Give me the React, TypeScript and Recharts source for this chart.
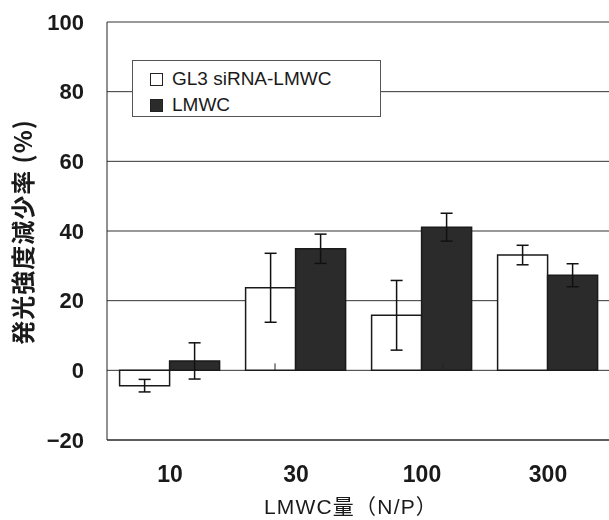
import React from 'react';
import {
  BarChart,
  Bar,
  XAxis,
  YAxis,
  CartesianGrid,
  ErrorBar,
  Legend,
  ReferenceLine
} from 'recharts';

const categories = ['10', '30', '100', '300'];
const gl3Values = [-4.4, 23.7, 15.8, 33.1];
const gl3Errors = [1.8, 9.9, 10, 2.8];
const lmwcValues = [2.7, 34.9, 41.1, 27.3];
const lmwcErrors = [5.2, 4.2, 4, 3.3];
const yTicks = [-20, 0, 20, 40, 60, 80, 100];
// category boundaries where the small ticks sit on the zero line
const zeroTicks = [1, 2, 3];

const chartData = categories.map((cat, i) => ({
  cat,
  gl3: gl3Values[i],
  gl3Err: gl3Errors[i],
  lmwc: lmwcValues[i],
  lmwcErr: lmwcErrors[i]
}));

const latin = '"Liberation Sans", Arial, sans-serif';
const cjk = '"Noto Sans CJK JP", sans-serif';

const YLabel = (props: any) => {
  const { viewBox } = props;
  const x = viewBox.x + 21;
  const y = viewBox.y + viewBox.height / 2 + 1;
  return (
    <text
      x={x}
      y={y}
      transform={`rotate(-90, ${x}, ${y})`}
      textAnchor="middle"
      dominantBaseline="central"
      fontFamily={cjk}
      fontWeight="bold"
      fontSize={24}
      letterSpacing={1}
      fill="#1a1a1a"
    >
      発光強度減少率 (%)
    </text>
  );
};

const XLabel = (props: any) => {
  const { viewBox } = props;
  const x = viewBox.x + viewBox.width / 2 - 8;
  const y = viewBox.y + viewBox.height - 6;
  return (
    <text
      x={x}
      y={y}
      textAnchor="middle"
      fontFamily={latin + ', ' + cjk}
      fontSize={21}
      letterSpacing={1.2}
      fill="#1a1a1a"
    >
      LMWC量（N/P）
    </text>
  );
};

const LegendBox = (props: any) => {
  const { payload } = props;
  return (
    <div
      style={{
        width: 249,
        height: 57,
        boxSizing: 'border-box',
        border: '1px solid #555',
        background: '#fff',
        padding: '5px 0 0 17px',
        fontFamily: latin,
        fontSize: 19,
        color: '#1a1a1a'
      }}
    >
      {(payload || []).map((entry: any, i: number) => (
        <div key={i} style={{ display: 'flex', alignItems: 'center', height: 26 }}>
          <span
            style={{
              width: 11,
              height: 11,
              border: '1.5px solid #222',
              background: entry.color,
              marginRight: 9,
              display: 'inline-block'
            }}
          />
          <span>{entry.value}</span>
        </div>
      ))}
    </div>
  );
};

export default function App() {
  return (
    <div style={{ position: 'fixed', left: 0, top: 0, width: 609, height: 520, background: '#fff' }}>
      <BarChart
        width={611}
        height={520}
        data={chartData}
        margin={{ top: 22, right: 0, bottom: 0, left: 0 }}
        barCategoryGap="10%"
        barGap={0}
      >
        <CartesianGrid vertical={false} stroke="#333" strokeWidth={1} />
        <XAxis
          dataKey="cat"
          height={80}
          tickLine={false}
          axisLine={{ stroke: '#222' }}
          tickMargin={20}
          tick={{ fill: '#1a1a1a', fontFamily: latin, fontWeight: 'bold', fontSize: 23 }}
          label={<XLabel />}
        />
        <XAxis xAxisId="num" type="number" domain={[0, 4]} hide />
        <YAxis
          width={107}
          domain={[-20, 100]}
          ticks={yTicks}
          interval={0}
          tickLine={false}
          axisLine={{ stroke: '#222' }}
          tickMargin={17}
          tickFormatter={(v: number) => (v < 0 ? '\u2212' + Math.abs(v) : String(v))}
          tick={{ fill: '#1a1a1a', fontFamily: latin, fontWeight: 'bold', fontSize: 22 }}
          label={<YLabel />}
        />
        <Legend
          layout="vertical"
          align="center"
          verticalAlign="middle"
          content={<LegendBox />}
          wrapperStyle={{ left: 132, top: 60, width: 249, height: 57 }}
        />
        <Bar dataKey="gl3" name="GL3 siRNA-LMWC" fill="#ffffff" stroke="#1a1a1a" strokeWidth={1.5} isAnimationActive={false}>
          <ErrorBar dataKey="gl3Err" width={6} stroke="#111" strokeWidth={1.5} isAnimationActive={false} />
        </Bar>
        <Bar dataKey="lmwc" name="LMWC" fill="#2b2b2b" stroke="#1a1a1a" strokeWidth={1.5} isAnimationActive={false}>
          <ErrorBar dataKey="lmwcErr" width={6} stroke="#111" strokeWidth={1.5} isAnimationActive={false} />
        </Bar>
        {zeroTicks.map((t) => (
          <ReferenceLine
            key={t}
            xAxisId="num"
            segment={[{ x: t, y: 0 }, { x: t, y: 2 }]}
            stroke="#222"
            strokeWidth={1}
          />
        ))}
      </BarChart>
    </div>
  );
}
